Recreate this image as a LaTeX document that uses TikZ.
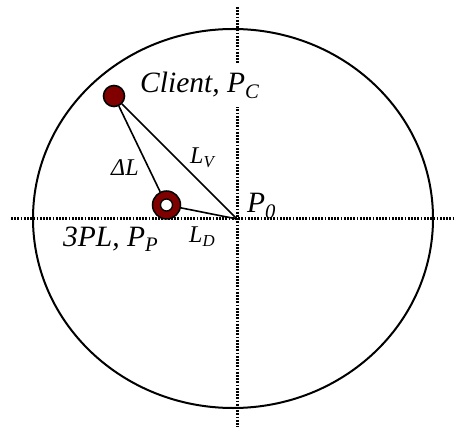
\documentclass[tikz,border=0pt]{standalone}
\usepackage{fontspec}
\setmainfont{Liberation Serif}
\definecolor{darkred}{RGB}{128,0,0}
\begin{document}
\begin{tikzpicture}[x=1pt,y=-1pt,
  axis/.style={line width=3pt, dash pattern=on 1.8pt off 1.4pt},
  conn/.style={line width=1.6pt},
  big/.style={font=\fontsize{29.5}{32}\selectfont\itshape, inner sep=0pt, anchor=base west},
  small/.style={font=\fontsize{24}{26}\selectfont\itshape, inner sep=0pt, anchor=base west},
  client/.style={circle, fill=darkred, draw=black, line width=1.6pt, minimum size=21pt, inner sep=0pt},
  ring/.style={circle, fill=darkred, draw=black, line width=1.5pt, minimum size=28pt, inner sep=0pt},
  hole/.style={circle, fill=white, draw=black, line width=1.3pt, minimum size=12pt, inner sep=0pt}]
\useasboundingbox (0,0) rectangle (454,427);
\draw[line width=2pt] (233,218.5) ellipse [x radius=200, y radius=189.5];
\coordinate (vt) at (237,7);
\coordinate (vb) at (237,427);
\coordinate (hl) at (11,219);
\coordinate (hr) at (454,219);
\draw[axis] (vt) -- (vb);
\draw[axis] (hl) -- (hr);
\coordinate (P0) at (237,219);
\node[client] (C) at (114,96) {};
\node[ring] (P) at (166.5,205) {};
\node[hole] (h) at (166.5,205) {};
\draw[conn] (C) -- (P0);
\draw[conn] (C) -- (P);
\draw[conn] (P) -- (P0);
\node[big, fill=white, text height=30pt, text depth=14pt] (lc) at (140,93) {Client, P\textsubscript{C}};
\node[small] (ldl) at (111,176) {ΔL};
\node[small] (llv) at (190,164) {L\textsubscript{V}};
\node[big] (lp0) at (247,213) {P\textsubscript{0}};
\node[big] (lpp) at (63,247) {3PL, P\textsubscript{P}};
\node[small] (lld) at (189,243) {L\textsubscript{D}};
\end{tikzpicture}
\end{document}
